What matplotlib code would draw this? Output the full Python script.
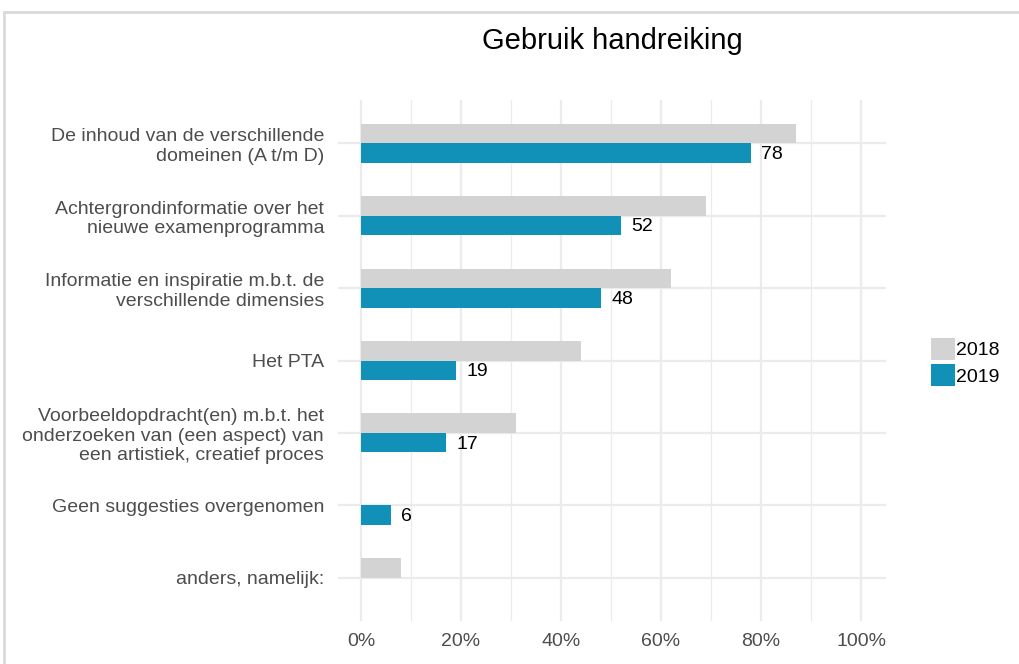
import numpy as np
import matplotlib
matplotlib.use('Agg')
import matplotlib.pyplot as plt
from matplotlib.patches import Patch, Rectangle

plt.rcParams['font.family'] = ['Liberation Sans', 'DejaVu Sans']

categories = [
    'De inhoud van de verschillende\ndomeinen (A t/m D)',
    'Achtergrondinformatie over het\nnieuwe examenprogramma',
    'Informatie en inspiratie m.b.t. de\nverschillende dimensies',
    'Het PTA',
    'Voorbeeldopdracht(en) m.b.t. het\nonderzoeken van (een aspect) van\neen artistiek, creatief proces',
    'Geen suggesties overgenomen',
    'anders, namelijk:',
]
values_2018 = [87, 69, 62, 44, 31, np.nan, 8]
values_2019 = [78, 52, 48, 19, 17, 6, np.nan]
labels_2019 = ['78', '52', '48', '19', '17', '6', '']
years = ['2018', '2019']
colors = ['#D3D3D3', '#1190B8']

fig = plt.figure(figsize=(10.19, 6.64), dpi=100)
ax = fig.add_axes([338 / 1019, 1 - 621 / 664, 548 / 1019, 521 / 664])

# light frame around the figure
fig.patches.append(Rectangle((4 / 1019, -0.1), 1.2, 1 - 12 / 664 + 0.1,
                             transform=fig.transFigure, fill=False,
                             edgecolor='#D9D9D9', linewidth=2))

y = np.arange(len(categories))
h = 0.27
ax.barh(y - h / 2, values_2018, height=h, color=colors[0], zorder=3)
ax.barh(y + h / 2, values_2019, height=h, color=colors[1], zorder=3)

for yi, v, lab in zip(y, values_2019, labels_2019):
    if lab:
        ax.text(v + 2, yi + h / 2 + 0.02, lab, va='center', ha='left',
                fontsize=14, color='black', zorder=4)

ax.set_xlim(-4.6, 105)
ax.set_ylim(6.6, -0.6)
ax.set_xticks(np.arange(0, 101, 20))
ax.set_xticklabels([f'{t}%' for t in range(0, 101, 20)])
ax.set_xticks(np.arange(10, 100, 20), minor=True)
ax.set_yticks(y)
ax.set_yticklabels(categories, ha='right', multialignment='right', linespacing=1.2)

ax.grid(True, which='major', color='#EBEBEB', linewidth=1.6, zorder=0)
ax.grid(True, which='minor', axis='x', color='#EBEBEB', linewidth=0.9, zorder=0)
ax.tick_params(axis='both', which='both', length=0, labelsize=14, labelcolor='#4D4D4D')
ax.tick_params(axis='y', pad=10)
ax.tick_params(axis='x', pad=9)
for s in ax.spines.values():
    s.set_visible(False)

fig.text(612 / 1019, 1 - 41 / 664, 'Gebruik handreiking', ha='center', va='center',
         fontsize=21, color='black')

handles = [Patch(facecolor=c, edgecolor='none') for c in colors]
fig.legend(handles, years, loc='center left', bbox_to_anchor=(931 / 1019, 1 - 362 / 664),
           frameon=False, fontsize=14, handlelength=1.25, handleheight=1.3,
           handletextpad=0.05, labelspacing=0.25, borderpad=0, borderaxespad=0)

fig.savefig('out.png', dpi=100)
